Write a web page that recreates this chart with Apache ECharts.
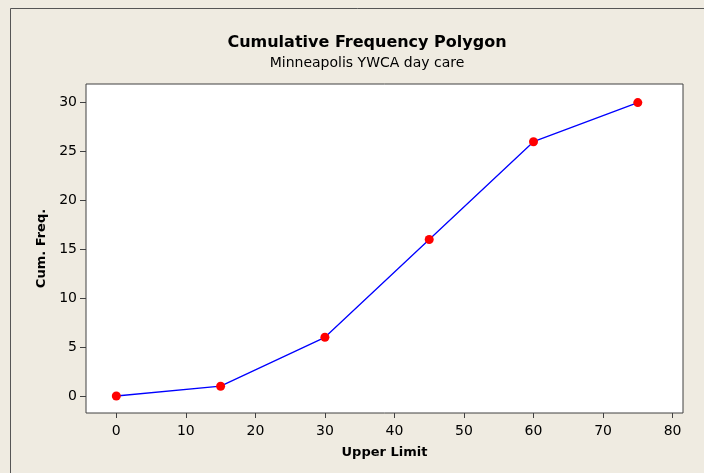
<!DOCTYPE html>
<html><head><meta charset="utf-8">
<script src="https://cdn.jsdelivr.net/npm/echarts@6/dist/echarts.min.js"></script>
<style>html,body{margin:0;padding:0;background:#EFEBE1;}#c{width:704px;height:473px;}</style>
</head><body><div id="c"></div>
<script>
const upperLimit = [0, 15, 30, 45, 60, 75];
const cumFreq = [0, 1, 6, 16, 26, 30];
const xTicks = [0, 10, 20, 30, 40, 50, 60, 70, 80];
const yTicks = [0, 5, 10, 15, 20, 25, 30];

const chart = echarts.init(document.getElementById('c'), null, {renderer: 'canvas'});
const font = 'Tahoma, "DejaVu Sans", Verdana, sans-serif';
chart.setOption({
  backgroundColor: '#EFEBE1',
  animation: false,
  title: [
    {text: 'Cumulative Frequency Polygon', left: 362, top: 30, textAlign: 'center',
     textStyle: {fontFamily: font, fontWeight: 'bold', fontSize: 16, color: '#000'}},
    {text: 'Minneapolis YWCA day care', left: 362, top: 51, textAlign: 'center',
     textStyle: {fontFamily: font, fontWeight: 'normal', fontSize: 14, color: '#000'}}
  ],
  graphic: [{
    type: 'rect', shape: {x: 10.5, y: 8.5, width: 720, height: 480},
    style: {fill: 'none', stroke: '#555', lineWidth: 1}, silent: true
  }],
  grid: {left: 86, top: 84, right: 21, bottom: 60, show: true, borderColor: '#404040', borderWidth: 1, backgroundColor: '#fff'},
  xAxis: {
    type: 'value', min: -4.36, max: 81.5,
    name: 'Upper Limit', nameLocation: 'middle', nameGap: 33,
    nameTextStyle: {fontFamily: font, fontWeight: 'bold', fontSize: 13, color: '#000'},
    axisLine: {show: false, onZero: false},
    axisTick: {show: true, customValues: xTicks, length: 5, lineStyle: {color: '#404040'}},
    axisLabel: {customValues: xTicks, fontFamily: font, fontSize: 14, color: '#000', margin: 11},
    splitLine: {show: false}
  },
  yAxis: {
    type: 'value', min: -1.74, max: 31.9,
    name: 'Cum. Freq.', nameLocation: 'middle', nameGap: 38, nameRotate: 90,
    nameTextStyle: {fontFamily: font, fontWeight: 'bold', fontSize: 13, color: '#000'},
    axisLine: {show: false, onZero: false},
    axisTick: {show: true, customValues: yTicks, length: 6, lineStyle: {color: '#404040'}},
    axisLabel: {customValues: yTicks, fontFamily: font, fontSize: 14, color: '#000', margin: 9},
    splitLine: {show: false}
  },
  series: [{
    type: 'line',
    data: upperLimit.map((x, i) => [x, cumFreq[i]]),
    symbol: 'circle', symbolSize: 9,
    itemStyle: {color: '#FF0000'},
    lineStyle: {color: '#0000FF', width: 1.3}
  }]
});
</script></body></html>
